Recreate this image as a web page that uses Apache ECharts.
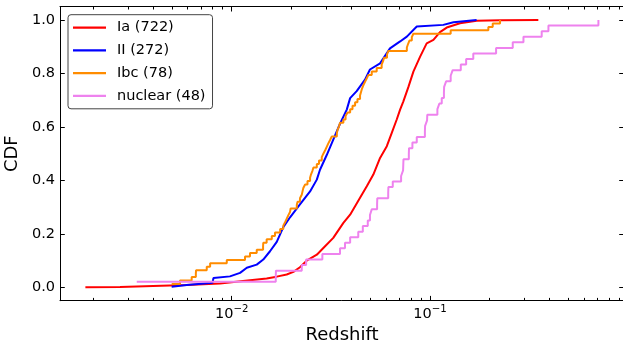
<!DOCTYPE html>
<html><head><meta charset="utf-8">
<script src="https://cdn.jsdelivr.net/npm/echarts@6/dist/echarts.min.js"></script>
<style>html,body{margin:0;padding:0;background:#fff}#c{width:623px;height:343px}</style>
</head><body><div id="c"></div>
<script>
// ---- data (x values are log10 of redshift, y values are CDF) ----
const seriesNames = ['Ia (722)', 'II (272)', 'Ibc (78)', 'nuclear (48)'];

const logzIa = [-2.738,-2.563,-2.397,-2.227,-2.059,-1.943,-1.824,-1.773,-1.723,-1.689,-1.656,-1.622,-1.571,-1.538,-1.488,-1.437,-1.403,-1.353,-1.319,-1.286,-1.252,-1.218,-1.193,-1.168,-1.151,-1.135,-1.109,-1.084,-1.050,-1.017,-0.983,-0.950,-0.916,-0.849,-0.765,-0.647,-0.454];
const cdfIa  = [0.000,0.0015,0.005,0.009,0.014,0.024,0.033,0.040,0.048,0.058,0.075,0.100,0.122,0.147,0.185,0.241,0.272,0.335,0.378,0.422,0.484,0.528,0.578,0.628,0.665,0.695,0.750,0.807,0.863,0.913,0.926,0.955,0.972,0.988,0.997,0.999,1.000];

const logzII = [-2.303,-2.227,-2.109,-2.097,-2.092,-2.009,-1.958,-1.924,-1.874,-1.841,-1.807,-1.773,-1.740,-1.706,-1.656,-1.605,-1.571,-1.555,-1.521,-1.488,-1.454,-1.420,-1.403,-1.370,-1.328,-1.303,-1.252,-1.202,-1.151,-1.117,-1.067,-0.933,-0.882,-0.765];
const cdfII  = [0.002,0.009,0.016,0.017,0.035,0.041,0.054,0.073,0.085,0.104,0.135,0.170,0.225,0.262,0.310,0.359,0.403,0.440,0.495,0.553,0.612,0.665,0.708,0.734,0.777,0.815,0.838,0.894,0.920,0.938,0.976,0.982,0.992,1.000];

const logzIbc = [-2.303,-2.261,-2.202,-2.181,-2.180,-2.126,-2.109,-2.025,-1.933,-1.908,-1.874,-1.842,-1.841,-1.824,-1.798,-1.782,-1.756,-1.740,-1.731,-1.723,-1.715,-1.706,-1.703,-1.672,-1.668,-1.656,-1.647,-1.643,-1.639,-1.630,-1.618,-1.605,-1.600,-1.593,-1.588,-1.571,-1.560,-1.546,-1.538,-1.529,-1.521,-1.513,-1.504,-1.496,-1.470,-1.466,-1.459,-1.454,-1.437,-1.426,-1.416,-1.403,-1.391,-1.378,-1.366,-1.353,-1.348,-1.343,-1.336,-1.328,-1.319,-1.311,-1.294,-1.269,-1.244,-1.237,-1.232,-1.217,-1.210,-1.117,-1.111,-1.104,-1.092,-1.084,-0.896,-0.706,-0.684,-0.647];
const cdfIbc  = [0.0128,0.0256,0.0385,0.0513,0.0641,0.0769,0.0897,0.1026,0.1154,0.1282,0.1410,0.1538,0.1667,0.1795,0.1923,0.2051,0.2179,0.2308,0.2436,0.2564,0.2692,0.2821,0.2949,0.3077,0.3205,0.3333,0.3462,0.3590,0.3718,0.3846,0.3974,0.4103,0.4231,0.4359,0.4487,0.4615,0.4744,0.4872,0.5000,0.5128,0.5256,0.5385,0.5513,0.5641,0.5769,0.5897,0.6026,0.6154,0.6282,0.6410,0.6538,0.6667,0.6795,0.6923,0.7051,0.7179,0.7308,0.7436,0.7564,0.7692,0.7821,0.7949,0.8077,0.8205,0.8333,0.8462,0.8590,0.8718,0.8846,0.8974,0.9103,0.9231,0.9359,0.9487,0.9615,0.9744,0.9872,1.0000];

const logzNuc = [-2.479,-1.778,-1.777,-1.647,-1.625,-1.543,-1.454,-1.429,-1.403,-1.362,-1.339,-1.314,-1.303,-1.294,-1.267,-1.266,-1.211,-1.210,-1.188,-1.146,-1.136,-1.135,-1.134,-1.107,-1.106,-1.089,-1.067,-1.026,-1.025,-1.015,-1.014,-0.963,-0.953,-0.941,-0.930,-0.929,-0.919,-0.896,-0.886,-0.845,-0.818,-0.782,-0.667,-0.583,-0.529,-0.437,-0.403,-0.151];
const cdfNuc  = [0.0208,0.0417,0.0625,0.0833,0.1042,0.1250,0.1458,0.1667,0.1875,0.2083,0.2292,0.2500,0.2708,0.2917,0.3125,0.3333,0.3542,0.3750,0.3958,0.4167,0.4375,0.4583,0.4792,0.5000,0.5208,0.5417,0.5625,0.5833,0.6042,0.6250,0.6458,0.6667,0.6875,0.7083,0.7292,0.7500,0.7708,0.7917,0.8125,0.8333,0.8542,0.8750,0.8958,0.9167,0.9375,0.9583,0.9792,1.0000];

const xMajorTicks = [-2, -1];                 // log10 of 1e-2, 1e-1
const xMinorRedshifts = [0.002,0.003,0.004,0.005,0.006,0.007,0.008,0.009,
                         0.02,0.03,0.04,0.05,0.06,0.07,0.08,0.09,
                         0.2,0.3,0.4,0.5,0.6,0.7,0.8,0.9];
const yTicks = [0, 0.2, 0.4, 0.6, 0.8, 1.0];

// ---- chart ----
const xMinorTicks = xMinorRedshifts.map(v => Math.log10(v));
const pairs = (xs, ys) => xs.map((x, i) => [x, ys[i]]);
const FONT = 'DejaVu Sans';
const X_MIN = -2.866, X_MAX = -0.022;
const Y_MIN = -0.05, Y_MAX = 1.05;
const axisLineStyle = { color: '#000', width: 1 };

const xBase = {
  type: 'value', min: X_MIN, max: X_MAX, gridIndex: 0,
  splitLine: { show: false },
  axisLine: { show: true, onZero: false, lineStyle: axisLineStyle }
};
const supMinus = '\u2212';

const option = {
  animation: false,
  backgroundColor: '#fff',
  grid: { left: 60, right: -1, top: 6.7, bottom: 42.3, containLabel: false, outerBoundsMode: 'none' },
  legend: {
    orient: 'vertical', left: 68, top: 14.7,
    data: seriesNames,
    icon: 'rect',
    itemWidth: 33, itemHeight: 2.2, itemGap: 4.7,
    padding: [4, 7, 4, 5],
    backgroundColor: '#fff', borderColor: '#444', borderWidth: 1, borderRadius: 3,
    textStyle: { fontFamily: FONT, fontSize: 14.5, color: '#000', lineHeight: 18, padding: [0, 0, 0, 6] }
  },
  xAxis: [
    Object.assign({}, xBase, {
      position: 'bottom',
      axisTick: { show: true, inside: true, length: 4.8, customValues: xMajorTicks, lineStyle: axisLineStyle },
      axisLabel: {
        show: true, customValues: xMajorTicks, margin: 4,
        formatter: v => '{b|10}{s|' + supMinus + Math.abs(Math.round(v)) + '}',
        rich: {
          b: { fontFamily: FONT, fontSize: 14.5, color: '#000', verticalAlign: 'bottom' },
          s: { fontFamily: FONT, fontSize: 10.2, color: '#000', verticalAlign: 'bottom', padding: [0, 0, 7, 0] }
        }
      },
      name: 'Redshift', nameLocation: 'middle', nameGap: 24,
      nameTextStyle: { fontFamily: FONT, fontSize: 18, color: '#000' }
    }),
    Object.assign({}, xBase, {
      position: 'bottom', axisLine: { show: false, onZero: false },
      axisTick: { show: true, inside: true, length: 2.8, customValues: xMinorTicks, lineStyle: axisLineStyle },
      axisLabel: { show: false }
    }),
    Object.assign({}, xBase, {
      position: 'top',
      axisTick: { show: true, inside: true, length: 4.8, customValues: xMajorTicks, lineStyle: axisLineStyle },
      axisLabel: { show: false }
    }),
    Object.assign({}, xBase, {
      position: 'top', axisLine: { show: false, onZero: false },
      axisTick: { show: true, inside: true, length: 2.8, customValues: xMinorTicks, lineStyle: axisLineStyle },
      axisLabel: { show: false }
    })
  ],
  yAxis: [
    {
      type: 'value', min: Y_MIN, max: Y_MAX, position: 'left',
      splitLine: { show: false },
      axisLine: { show: true, onZero: false, lineStyle: axisLineStyle },
      axisTick: { show: true, inside: true, length: 4.8, customValues: yTicks, lineStyle: axisLineStyle },
      axisLabel: { show: true, customValues: yTicks, margin: 5, formatter: v => v.toFixed(1),
                   fontFamily: FONT, fontSize: 14.5, color: '#000' },
      name: 'CDF', nameLocation: 'middle', nameGap: 29,
      nameTextStyle: { fontFamily: FONT, fontSize: 18, color: '#000' }
    },
    {
      type: 'value', min: Y_MIN, max: Y_MAX, position: 'right',
      splitLine: { show: false },
      axisLine: { show: true, onZero: false, lineStyle: axisLineStyle },
      axisTick: { show: true, inside: true, length: 4.8, customValues: yTicks, lineStyle: axisLineStyle },
      axisLabel: { show: false }
    }
  ],
  series: [
    { name: seriesNames[0], type: 'line', data: pairs(logzIa, cdfIa), showSymbol: false, symbol: 'none',
      lineStyle: { color: '#ff0000', width: 2 }, itemStyle: { color: '#ff0000' } },
    { name: seriesNames[1], type: 'line', data: pairs(logzII, cdfII), showSymbol: false, symbol: 'none',
      lineStyle: { color: '#0000ff', width: 2 }, itemStyle: { color: '#0000ff' } },
    { name: seriesNames[2], type: 'line', step: 'end', data: pairs(logzIbc, cdfIbc), showSymbol: false, symbol: 'none',
      lineStyle: { color: '#ff8c00', width: 2 }, itemStyle: { color: '#ff8c00' } },
    { name: seriesNames[3], type: 'line', step: 'end', data: pairs(logzNuc, cdfNuc), showSymbol: false, symbol: 'none',
      lineStyle: { color: '#ee82ee', width: 2 }, itemStyle: { color: '#ee82ee' } }
  ]
};

const chart = echarts.init(document.getElementById('c'), null, { renderer: 'canvas' });
chart.setOption(option);
</script>
</body></html>
